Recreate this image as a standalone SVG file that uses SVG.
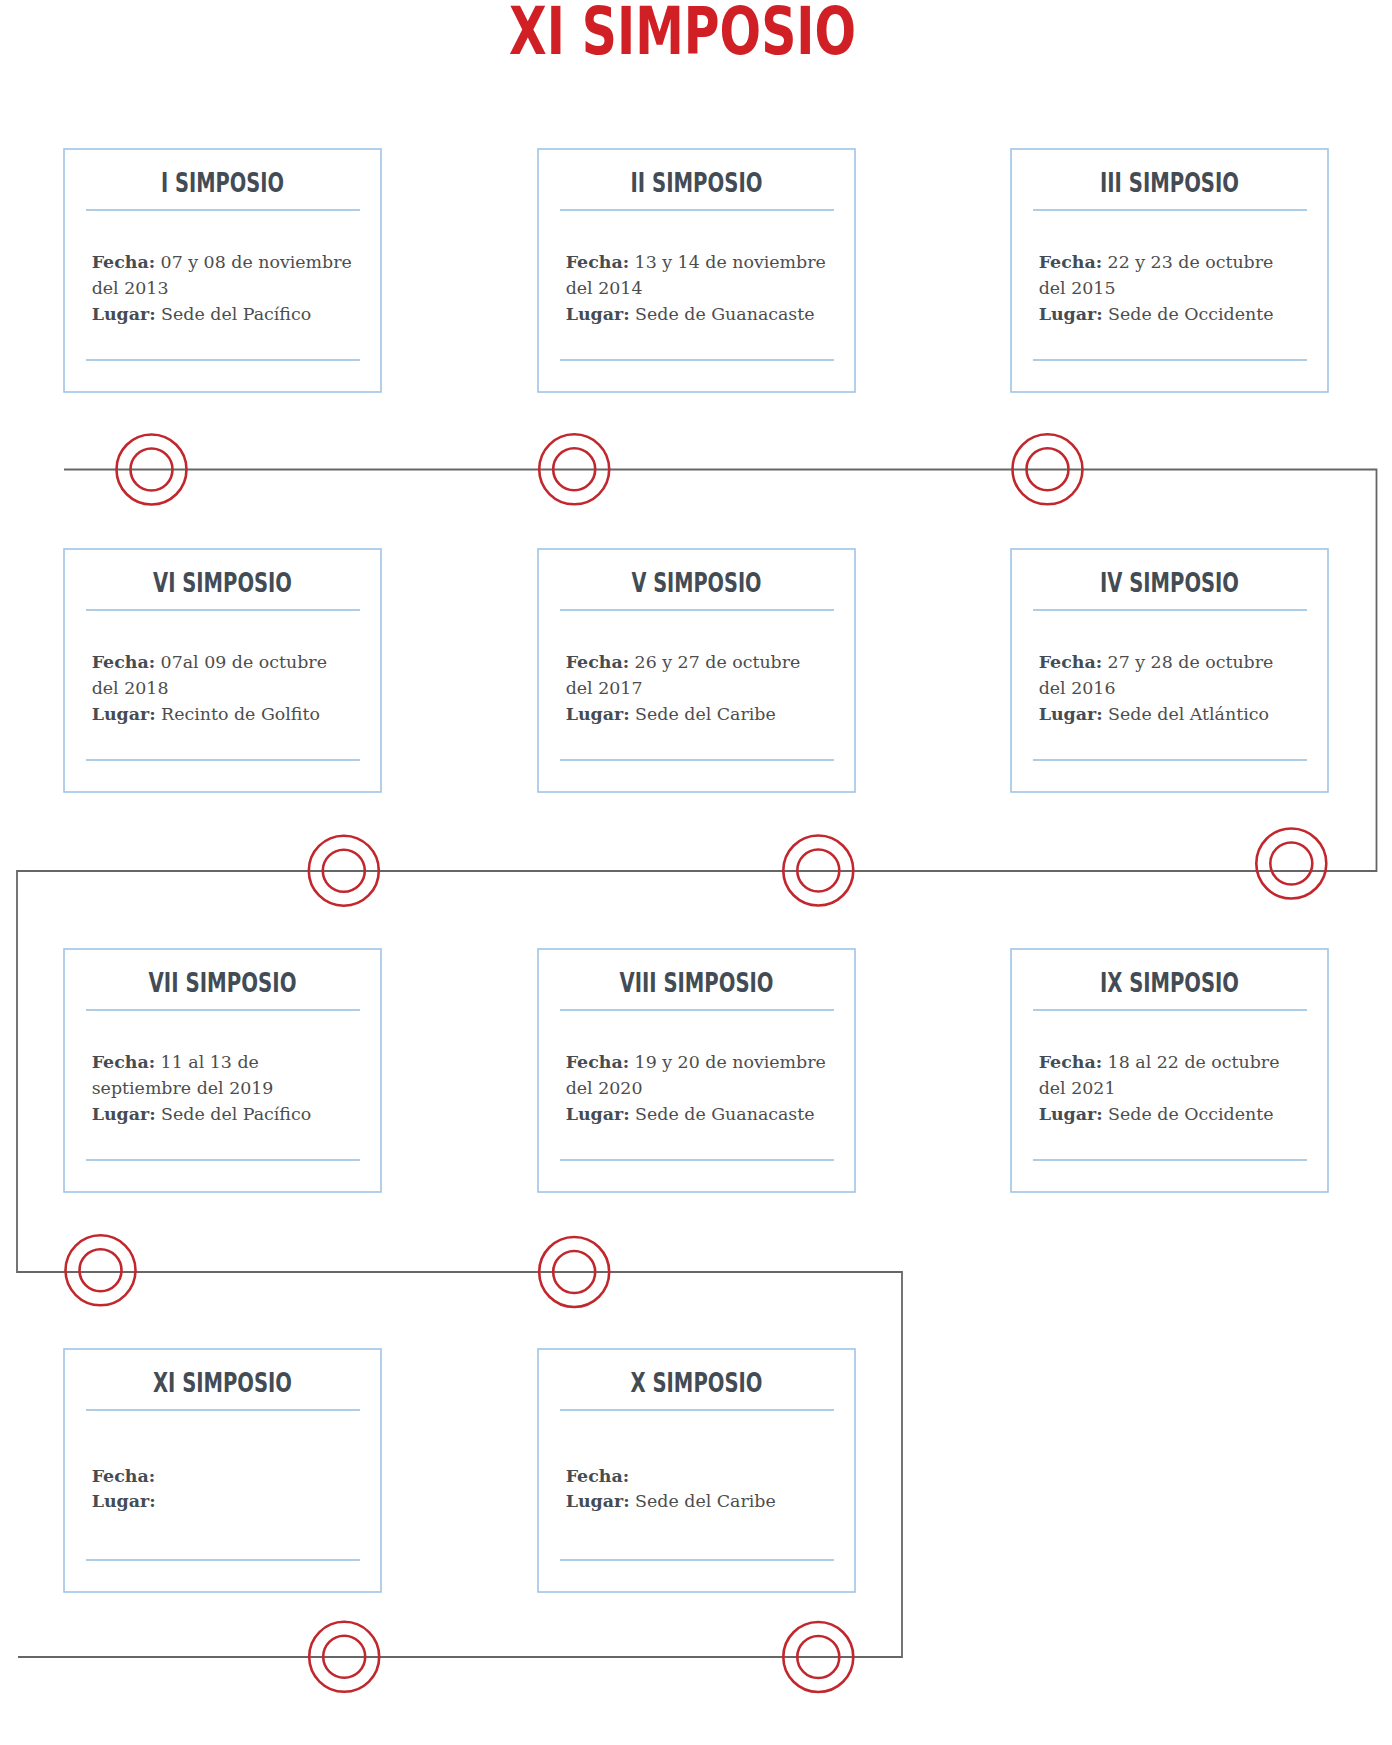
<svg xmlns="http://www.w3.org/2000/svg" xmlns:xlink="http://www.w3.org/1999/xlink" width="1392" height="1745" viewBox="0 0 1392 1745">
<style>
.box{fill:#ffffff;stroke:#9fc5e8;stroke-width:1.6}
.div{stroke:#93bde2;stroke-width:1.6}
.ttl{font-family:"DejaVu Sans Condensed","DejaVu Sans",sans-serif;font-weight:bold;font-stretch:condensed;font-size:26px;fill:#434c55;text-anchor:middle}
.body{font-family:"DejaVu Serif","Liberation Serif",serif;font-size:17.4px;fill:#4d4d4d}
.b{font-weight:bold;fill:#454c53}
.conn{fill:none;stroke:#666666;stroke-width:1.8}
.ring{fill:none;stroke:#c1272d;stroke-width:2.6}
</style>
<defs>
<g id="target"><circle class="ring" r="35"/><circle class="ring" r="21"/></g>
</defs>
<rect width="1392" height="1745" fill="#ffffff"/>
<text x="509" y="54" textLength="347" lengthAdjust="spacingAndGlyphs" style="font-family:'DejaVu Sans Condensed','DejaVu Sans',sans-serif;font-weight:bold;font-size:65px;fill:#d11f26">XI SIMPOSIO</text>

<g id="connectors">
<path class="conn" d="M64 469.5 H1376.5 V871 H17 V1272 H902 V1657 H18"/>
</g>

<g id="markers">
<use xlink:href="#target" x="151.5" y="469.5"/>
<use xlink:href="#target" x="574.2" y="469.3"/>
<use xlink:href="#target" x="1047.5" y="469.3"/>
<use xlink:href="#target" x="343.8" y="870.7"/>
<use xlink:href="#target" x="818.3" y="870.5"/>
<use xlink:href="#target" x="1291.3" y="863.5"/>
<use xlink:href="#target" x="100.5" y="1270.3"/>
<use xlink:href="#target" x="574.2" y="1272"/>
<use xlink:href="#target" x="344.2" y="1656.8"/>
<use xlink:href="#target" x="818.3" y="1657"/>
</g>

<g id="node-I">
<rect class="box" x="64" y="149" width="317" height="243"/>
<text class="ttl" x="222.5" y="192" textLength="123" lengthAdjust="spacingAndGlyphs">I SIMPOSIO</text>
<line class="div" x1="86" y1="210" x2="360" y2="210"/>
<text class="body" x="91.7" y="268"><tspan class="b">Fecha:</tspan> 07 y 08 de noviembre</text>
<text class="body" x="91.7" y="294">del 2013</text>
<text class="body" x="91.7" y="320"><tspan class="b">Lugar:</tspan> Sede del Pacífico</text>
<line class="div" x1="86" y1="360" x2="360" y2="360"/>
</g>

<g id="node-II">
<rect class="box" x="538" y="149" width="317" height="243"/>
<text class="ttl" x="696.5" y="192" textLength="132" lengthAdjust="spacingAndGlyphs">II SIMPOSIO</text>
<line class="div" x1="560" y1="210" x2="834" y2="210"/>
<text class="body" x="565.7" y="268"><tspan class="b">Fecha:</tspan> 13 y 14 de noviembre</text>
<text class="body" x="565.7" y="294">del 2014</text>
<text class="body" x="565.7" y="320"><tspan class="b">Lugar:</tspan> Sede de Guanacaste</text>
<line class="div" x1="560" y1="360" x2="834" y2="360"/>
</g>

<g id="node-III">
<rect class="box" x="1011" y="149" width="317" height="243"/>
<text class="ttl" x="1169.5" y="192" textLength="139" lengthAdjust="spacingAndGlyphs">III SIMPOSIO</text>
<line class="div" x1="1033" y1="210" x2="1307" y2="210"/>
<text class="body" x="1038.7" y="268"><tspan class="b">Fecha:</tspan> 22 y 23 de octubre</text>
<text class="body" x="1038.7" y="294">del 2015</text>
<text class="body" x="1038.7" y="320"><tspan class="b">Lugar:</tspan> Sede de Occidente</text>
<line class="div" x1="1033" y1="360" x2="1307" y2="360"/>
</g>

<g id="node-VI">
<rect class="box" x="64" y="549" width="317" height="243"/>
<text class="ttl" x="222.5" y="592" textLength="139" lengthAdjust="spacingAndGlyphs">VI SIMPOSIO</text>
<line class="div" x1="86" y1="610" x2="360" y2="610"/>
<text class="body" x="91.7" y="668"><tspan class="b">Fecha:</tspan> 07al 09 de octubre</text>
<text class="body" x="91.7" y="694">del 2018</text>
<text class="body" x="91.7" y="720"><tspan class="b">Lugar:</tspan> Recinto de Golfito</text>
<line class="div" x1="86" y1="760" x2="360" y2="760"/>
</g>

<g id="node-V">
<rect class="box" x="538" y="549" width="317" height="243"/>
<text class="ttl" x="696.5" y="592" textLength="130" lengthAdjust="spacingAndGlyphs">V SIMPOSIO</text>
<line class="div" x1="560" y1="610" x2="834" y2="610"/>
<text class="body" x="565.7" y="668"><tspan class="b">Fecha:</tspan> 26 y 27 de octubre</text>
<text class="body" x="565.7" y="694">del 2017</text>
<text class="body" x="565.7" y="720"><tspan class="b">Lugar:</tspan> Sede del Caribe</text>
<line class="div" x1="560" y1="760" x2="834" y2="760"/>
</g>

<g id="node-IV">
<rect class="box" x="1011" y="549" width="317" height="243"/>
<text class="ttl" x="1169.5" y="592" textLength="139" lengthAdjust="spacingAndGlyphs">IV SIMPOSIO</text>
<line class="div" x1="1033" y1="610" x2="1307" y2="610"/>
<text class="body" x="1038.7" y="668"><tspan class="b">Fecha:</tspan> 27 y 28 de octubre</text>
<text class="body" x="1038.7" y="694">del 2016</text>
<text class="body" x="1038.7" y="720"><tspan class="b">Lugar:</tspan> Sede del Atlántico</text>
<line class="div" x1="1033" y1="760" x2="1307" y2="760"/>
</g>

<g id="node-VII">
<rect class="box" x="64" y="949" width="317" height="243"/>
<text class="ttl" x="222.5" y="992" textLength="148" lengthAdjust="spacingAndGlyphs">VII SIMPOSIO</text>
<line class="div" x1="86" y1="1010" x2="360" y2="1010"/>
<text class="body" x="91.7" y="1068"><tspan class="b">Fecha:</tspan> 11 al 13 de</text>
<text class="body" x="91.7" y="1094">septiembre del 2019</text>
<text class="body" x="91.7" y="1120"><tspan class="b">Lugar:</tspan> Sede del Pacífico</text>
<line class="div" x1="86" y1="1160" x2="360" y2="1160"/>
</g>

<g id="node-VIII">
<rect class="box" x="538" y="949" width="317" height="243"/>
<text class="ttl" x="696.5" y="992" textLength="154" lengthAdjust="spacingAndGlyphs">VIII SIMPOSIO</text>
<line class="div" x1="560" y1="1010" x2="834" y2="1010"/>
<text class="body" x="565.7" y="1068"><tspan class="b">Fecha:</tspan> 19 y 20 de noviembre</text>
<text class="body" x="565.7" y="1094">del 2020</text>
<text class="body" x="565.7" y="1120"><tspan class="b">Lugar:</tspan> Sede de Guanacaste</text>
<line class="div" x1="560" y1="1160" x2="834" y2="1160"/>
</g>

<g id="node-IX">
<rect class="box" x="1011" y="949" width="317" height="243"/>
<text class="ttl" x="1169.5" y="992" textLength="139" lengthAdjust="spacingAndGlyphs">IX SIMPOSIO</text>
<line class="div" x1="1033" y1="1010" x2="1307" y2="1010"/>
<text class="body" x="1038.7" y="1068"><tspan class="b">Fecha:</tspan> 18 al 22 de octubre</text>
<text class="body" x="1038.7" y="1094">del 2021</text>
<text class="body" x="1038.7" y="1120"><tspan class="b">Lugar:</tspan> Sede de Occidente</text>
<line class="div" x1="1033" y1="1160" x2="1307" y2="1160"/>
</g>

<g id="node-XI">
<rect class="box" x="64" y="1349" width="317" height="243"/>
<text class="ttl" x="222.5" y="1392" textLength="139" lengthAdjust="spacingAndGlyphs">XI SIMPOSIO</text>
<line class="div" x1="86" y1="1410" x2="360" y2="1410"/>
<text class="body" x="91.7" y="1481.5"><tspan class="b">Fecha:</tspan></text>
<text class="body" x="91.7" y="1507"><tspan class="b">Lugar:</tspan></text>
<line class="div" x1="86" y1="1560" x2="360" y2="1560"/>
</g>

<g id="node-X">
<rect class="box" x="538" y="1349" width="317" height="243"/>
<text class="ttl" x="696.5" y="1392" textLength="132" lengthAdjust="spacingAndGlyphs">X SIMPOSIO</text>
<line class="div" x1="560" y1="1410" x2="834" y2="1410"/>
<text class="body" x="565.7" y="1481.5"><tspan class="b">Fecha:</tspan></text>
<text class="body" x="565.7" y="1507"><tspan class="b">Lugar:</tspan> Sede del Caribe</text>
<line class="div" x1="560" y1="1560" x2="834" y2="1560"/>
</g>
</svg>
